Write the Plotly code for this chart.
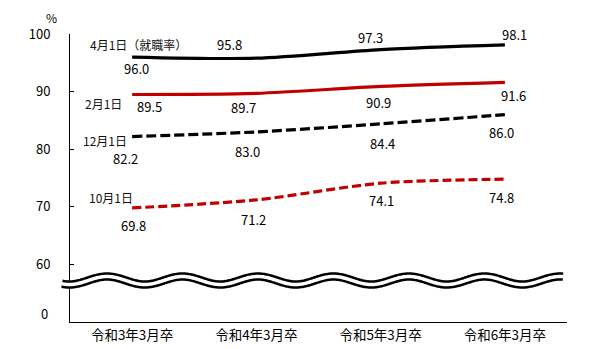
import numpy as np
import plotly.graph_objects as go

categories = ["令和3年3月卒", "令和4年3月卒", "令和5年3月卒", "令和6年3月卒"]
apr1 = [96.0, 95.8, 97.3, 98.1]
feb1 = [89.5, 89.7, 90.9, 91.6]
dec1 = [82.2, 83.0, 84.4, 86.0]
oct1 = [69.8, 71.2, 74.1, 74.8]
series_names = ["4月1日（就職率）", "2月1日", "12月1日", "10月1日"]
y_ticks = [60, 70, 80, 90, 100]

FONT = "Noto Sans CJK JP"
BLACK = "#000000"
RED = "#C00000"

W, H = 605, 349
L, R, T, B = 70, 38, 34, 27
PW, PH = W - L - R, H - T - B

def px2paper_x(px):
    return (px - L) / PW

def px2paper_y(py):
    return (H - B - py) / PH

fig = go.Figure()

series = [
    (apr1, BLACK, "solid"),
    (feb1, RED, "solid"),
    (dec1, BLACK, "10px,4px"),
    (oct1, RED, "9px,4px"),
]
for vals, col, dash in series:
    fig.add_trace(go.Scatter(
        x=categories, y=vals, mode="lines",
        line=dict(color=col, width=3.2, dash=dash, shape="spline", smoothing=0.8),
        showlegend=False, hoverinfo="skip"))

# data label offsets (px) per series/point
offsets = [
    [(4, -11), (-27, 14), (-10, 12), (10, 10)],
    [(17, -12), (-13, -14), (-2, -16), (9, -13)],
    [(-7, -22), (-9, -20), (2, -20), (-3, -18)],
    [(1, -18), (-3, -20), (1, -17), (-3, -18)],
]
annotations = []
for (vals, _, _), offs in zip(series, offsets):
    for i, v in enumerate(vals):
        dx, dy = offs[i]
        annotations.append(dict(
            x=categories[i], y=v, xref="x", yref="y", text=f"{v:.1f}",
            showarrow=False, xshift=dx, yshift=dy,
            font=dict(family=FONT, size=13, color=BLACK)))

# series name labels (left px, center y px)
name_pos = [(88, 44), (83, 103), (81, 140), (87, 197)]
for name, (lx, ly) in zip(series_names, name_pos):
    annotations.append(dict(
        x=px2paper_x(lx), y=px2paper_y(ly), xref="paper", yref="paper",
        text=name, showarrow=False, xanchor="left", yanchor="middle",
        font=dict(family=FONT, size=12, color="#111111")))

# "%" and broken-axis "0"
annotations.append(dict(x=px2paper_x(51), y=px2paper_y(18), xref="paper", yref="paper",
                        text="%", showarrow=False, xanchor="center", yanchor="middle",
                        font=dict(family=FONT, size=12, color=BLACK)))
annotations.append(dict(x=px2paper_x(50), y=px2paper_y(313), xref="paper", yref="paper",
                        text="0", showarrow=False, xanchor="right", yanchor="middle",
                        font=dict(family=FONT, size=13, color=BLACK)))

# wavy break marks
xs = np.arange(62, 563.5, 1.0)
cy = 280.5 - 4.0 * np.cos(2 * np.pi * (xs - 107) / 75.5)
path = "M " + " L ".join(f"{px2paper_x(a):.5f},{px2paper_y(b):.5f}" for a, b in zip(xs, cy))
shapes = [
    dict(type="path", path=path, xref="paper", yref="paper", layer="above",
         line=dict(color=BLACK, width=8.5)),
    dict(type="path", path=path, xref="paper", yref="paper", layer="above",
         line=dict(color="#FFFFFF", width=3.5)),
]

fig.update_layout(
    width=W, height=H,
    margin=dict(l=L, r=R, t=T, b=B, pad=0, autoexpand=False),
    paper_bgcolor="white", plot_bgcolor="white",
    font=dict(family=FONT, size=13, color=BLACK),
    annotations=annotations, shapes=shapes,
    xaxis=dict(type="category", range=[-0.5, 3.5], showline=True, linecolor=BLACK,
               linewidth=1, ticks="", showgrid=False, zeroline=False, automargin=False,
               tickfont=dict(family=FONT, size=13.5, color=BLACK), ticklabelstandoff=1),
    yaxis=dict(range=[50, 100], tickvals=y_ticks, ticktext=[str(t) for t in y_ticks],
               showline=True, linecolor=BLACK, linewidth=1, ticks="inside",
               ticklen=4, tickcolor=BLACK, showgrid=False, zeroline=False, automargin=False,
               tickfont=dict(family=FONT, size=13, color=BLACK), ticklabelstandoff=16),
)

fig.write_html("out.html")
